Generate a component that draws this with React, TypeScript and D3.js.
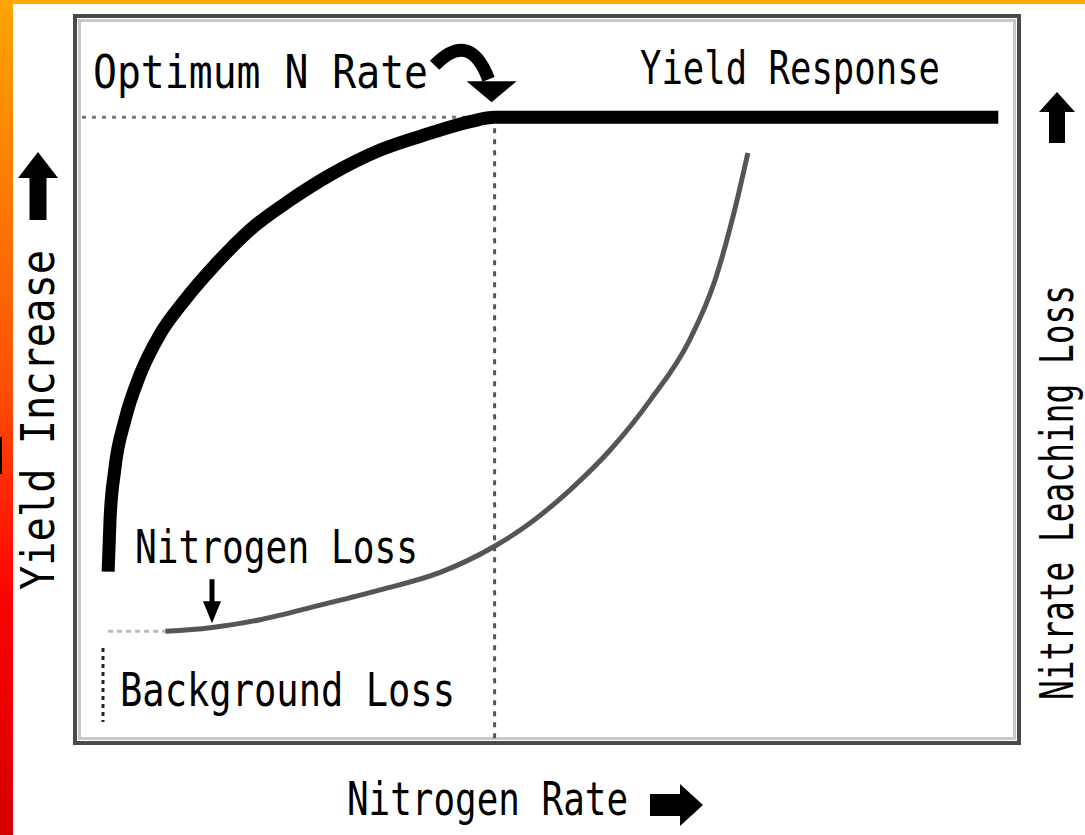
import React from 'react';
import * as d3 from 'd3';

// yield response curve (nitrogen rate %, yield increase %)
const yieldRate = [3, 3.2, 3.7, 4.8, 6.4, 8.5, 11.2, 14.4, 18.1, 22.4, 26.7, 32, 37.3, 41.6, 44.2, 97.9];
const yieldValue = [23.7, 30.8, 37.7, 44.6, 50.8, 56.3, 61.1, 65.9, 70.7, 74.8, 78.3, 81.7, 84, 85.6, 86.2, 86.2];

// nitrate leaching loss curve
const lossRate = [9.1, 13.9, 19.2, 25.6, 32, 38.4, 44.2, 48, 52.2, 56.5, 60.8, 65, 67.7, 69.8, 71.2];
const lossValue = [15.5, 16, 17.1, 19.1, 21.2, 23.6, 27.2, 30.4, 34.9, 40.4, 47.3, 55.6, 63.8, 73.5, 81.3];

const optimumRate = 44.2;
const optimumYield = 86.2;
const backgroundLoss = 15.5;
const backgroundStart = 3;

const labels = {
  optimum: 'Optimum N Rate',
  response: 'Yield Response',
  nLoss: 'Nitrogen Loss',
  background: 'Background Loss',
  xTitle: 'Nitrogen Rate',
  yLeft: 'Yield Increase',
  yRight: 'Nitrate Leaching Loss',
};

const W = 1085;
const H = 835;
const box = { left: 80, right: 1018, top: 17, bottom: 744 };
const FONT = '"DejaVu Sans Mono", monospace';

// block arrow pointing up, tip at (0,0)
const upArrow = (headW: number, headH: number, shaftW: number, len: number) =>
  `M0,0 L${headW / 2},${headH} L${shaftW / 2},${headH} L${shaftW / 2},${len} L${-shaftW / 2},${len} L${-shaftW / 2},${headH} L${-headW / 2},${headH} Z`;

const App = () => {
  const x = d3.scaleLinear().domain([0, 100]).range([box.left, box.right]);
  const y = d3.scaleLinear().domain([0, 100]).range([box.bottom, box.top]);

  const yieldPts: [number, number][] = yieldRate.map((r, i) => [r, yieldValue[i]]);
  const lossPts: [number, number][] = lossRate.map((r, i) => [r, lossValue[i]]);

  const line = d3.line<[number, number]>()
    .x(d => x(d[0]))
    .y(d => y(d[1]))
    .curve(d3.curveMonotoneX);

  const ox = x(optimumRate);
  const oy = y(optimumYield);
  const bgy = y(backgroundLoss);

  const txt = (s: string, tx: number, ty: number, len: number, extra: any = {}) => (
    <text x={tx} y={ty} textLength={len} lengthAdjust="spacingAndGlyphs"
      fontFamily={FONT} fontSize={47} fill="#000" {...extra}>{s}</text>
  );

  return (
    <>
      <style>{`body{margin:0}`}</style>
      <svg width={W} height={H} style={{ display: 'block' }}>
        <defs>
          <linearGradient id="edge" x1="0" y1="0" x2="0" y2="1">
            <stop offset="0" stopColor="#ffa500" />
            <stop offset="0.45" stopColor="#ff5200" />
            <stop offset="0.72" stopColor="#ff0000" />
            <stop offset="1" stopColor="#d40000" />
          </linearGradient>
        </defs>
        <rect x={0} y={0} width={W} height={H} fill="#fff" />
        <rect x={0} y={0} width={W} height={4} fill="#ffa800" />
        <rect x={0} y={0} width={13} height={H} fill="url(#edge)" />
        <rect x={0} y={437} width={2} height={37} fill="#000" />

        {/* frame */}
        <rect x={75} y={16} width={944} height={727} fill="none" stroke="#4a4a4a" strokeWidth={4} />
        <rect x={79.5} y={20.5} width={935} height={718} fill="none" stroke="#c8c8c8" strokeWidth={3} />

        {/* optimum guides */}
        <line x1={box.left + 2} x2={ox} y1={oy} y2={oy} stroke="#777" strokeWidth={3} strokeDasharray="4 6" />
        <line x1={ox} x2={ox} y1={oy} y2={box.bottom} stroke="#555" strokeWidth={3} strokeDasharray="5 6" />

        {/* background loss guides */}
        <line x1={x(backgroundStart)} x2={x(lossRate[0])} y1={bgy} y2={bgy} stroke="#bbb" strokeWidth={3} strokeDasharray="5 4" />
        <line x1={103} x2={103} y1={648} y2={722} stroke="#222" strokeWidth={3} strokeDasharray="4 4" />

        {/* curves */}
        <path d={line(lossPts) || ''} fill="none" stroke="#555" strokeWidth={5} />
        <path d={line(yieldPts) || ''} fill="none" stroke="#000" strokeWidth={13} />

        {/* curved arrow to optimum */}
        <path d={`M${ox - 60},${oy - 52} Q${ox - 25},${oy - 88} ${ox - 6},${oy - 38}`}
          fill="none" stroke="#000" strokeWidth={13} />
        <path d={`M${ox - 28},${oy - 36} L${ox + 22},${oy - 36} L${ox - 3},${oy - 15} Z`} fill="#000" />

        {/* nitrogen loss arrow */}
        <g transform={`translate(212,${bgy - 8}) rotate(180)`}>
          <path d={upArrow(18, 22, 5, 44)} fill="#000" />
        </g>

        {/* axis arrows */}
        <g transform="translate(38,152)"><path d={upArrow(40, 26, 17, 68)} fill="#000" /></g>
        <g transform="translate(1057,92)"><path d={upArrow(36, 20, 16, 51)} fill="#000" /></g>
        <g transform="translate(703,805) rotate(90)"><path d={upArrow(42, 23, 22, 53)} fill="#000" /></g>

        {/* texts */}
        {txt(labels.optimum, 93, 88, 335)}
        {txt(labels.response, 640, 84, 300)}
        {txt(labels.nLoss, 135, 563, 283)}
        {txt(labels.background, 120, 706, 335)}
        {txt(labels.xTitle, 347, 815, 281)}
        {txt(labels.yLeft, 0, 0, 340, { transform: 'translate(54,590) rotate(-90)' })}
        {txt(labels.yRight, 0, 0, 415, { transform: 'translate(1073,700) rotate(-90)' })}
      </svg>
    </>
  );
};

export default App;
